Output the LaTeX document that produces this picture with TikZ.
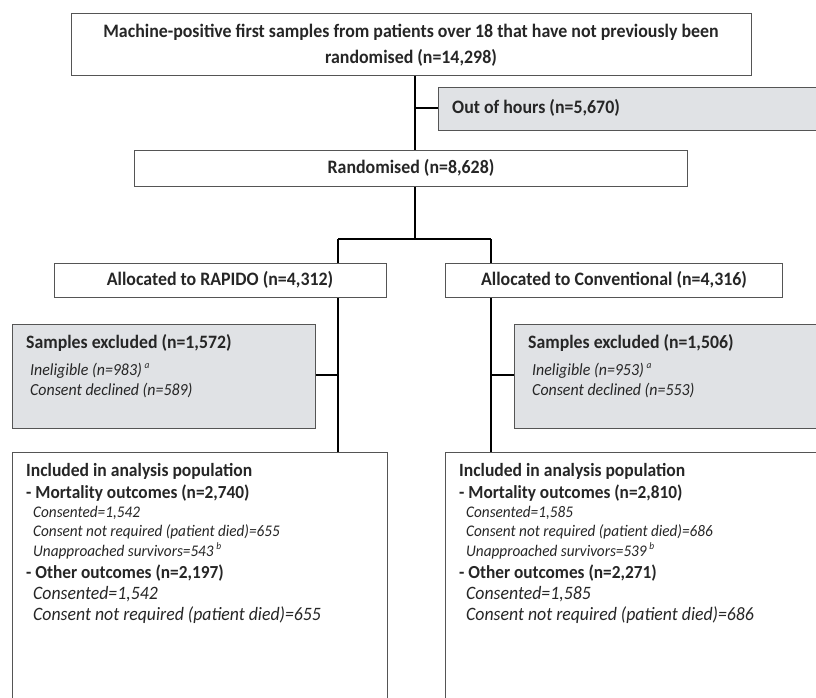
\documentclass[tikz,border=0pt]{standalone}
\usepackage{fontspec}
\setmainfont{Carlito}[FakeStretch=0.94]
\definecolor{boxfill}{HTML}{E0E2E5}
\definecolor{boxline}{HTML}{555555}
\definecolor{ink}{HTML}{262626}
\tikzset{
  box/.style={draw=boxline, line width=1.3pt, inner sep=0pt, anchor=north west, fill=white},
  greybox/.style={box, fill=boxfill},
  conn/.style={draw=black, line width=1.5pt},
  txt/.style={inner sep=0pt, text=ink},
  ltxt/.style={txt, anchor=west},
  hfont/.style={font=\fontsize{19}{26}\selectfont\bfseries},
  exfont/.style={font=\fontsize{18.9}{22}\selectfont\bfseries},
  exifont/.style={font=\fontsize{16.9}{20}\selectfont\itshape},
  incfont/.style={font=\fontsize{18.7}{22}\selectfont\bfseries},
  outfont/.style={font=\fontsize{18.4}{22}\selectfont\bfseries},
  sfont/.style={font=\fontsize{16.2}{19}\selectfont\itshape},
  bfont/.style={font=\fontsize{18.9}{22}\selectfont\itshape},
}
\newcommand{\supmark}[1]{\,\raisebox{0.9ex}{\fontsize{10}{10}\selectfont #1}}
\begin{document}
\begin{tikzpicture}[x=1pt,y=-1pt]
\useasboundingbox (0,0) rectangle (816,697);
\clip (0,0) rectangle (816,697);
% boxes
\node[box, minimum width=680pt, minimum height=62pt] (top) at (71,13) {};
\node[greybox, minimum width=400pt, minimum height=43pt] (ooh) at (438,87) {};
\node[box, minimum width=553pt, minimum height=36pt] (rand) at (134,150) {};
\node[box, minimum width=332pt, minimum height=34pt] (allocL) at (54,263) {};
\node[box, minimum width=337pt, minimum height=34pt] (allocR) at (445,263) {};
\node[greybox, minimum width=303pt, minimum height=104pt] (exclL) at (12,324) {};
\node[greybox, minimum width=320pt, minimum height=104pt] (exclR) at (514,324) {};
\node[box, minimum width=375pt, minimum height=260pt] (inclL) at (12,452) {};
\node[box, minimum width=390pt, minimum height=260pt] (inclR) at (445,452) {};
% junctions
\coordinate (j1) at (415,108);
\coordinate (j2) at (415,239);
\coordinate (jl) at (338,239);
\coordinate (jr) at (491,239);
\coordinate (el) at (338,375);
\coordinate (er) at (491,375);
% connectors
\draw[conn] (top.south -| j1) -- (rand.north -| j1);
\draw[conn] (j1) -- (ooh.west |- j1);
\draw[conn] (rand.south -| j2) -- (j2);
\draw[conn] (jl) -- (jr);
\draw[conn] (jl) -- (allocL.north -| jl);
\draw[conn] (jr) -- (allocR.north -| jr);
\draw[conn] (allocL.south -| jl) -- (inclL.north -| jl);
\draw[conn] (allocR.south -| jr) -- (inclR.north -| jr);
\draw[conn] (el) -- (exclL.east |- el);
\draw[conn] (er) -- (exclR.west |- er);
% texts
\node[txt, hfont, align=center] (ttop) at (411,45) {Machine-positive first samples from patients over 18 that have not previously been\\randomised (n=14,298)};
\node[ltxt, hfont] (tooh) at (452,108) {Out of hours (n=5,670)};
\node[txt, hfont] (trand) at (411,168) {Randomised (n=8,628)};
\node[txt, hfont] (tallocL) at (220,280) {Allocated to RAPIDO (n=4,312)};
\node[txt, hfont] (tallocR) at (614,280) {Allocated to Conventional (n=4,316)};
% excluded left
\node[ltxt, exfont] (exL1) at (26,343) {Samples excluded (n=1,572)};
\node[ltxt, exifont] (exL2) at (30,371) {Ineligible (n=983)\supmark{a}};
\node[ltxt, exifont] (exL3) at (30,390) {Consent declined (n=589)};
% excluded right
\node[ltxt, exfont] (exR1) at (528,343) {Samples excluded (n=1,506)};
\node[ltxt, exifont] (exR2) at (532,371) {Ineligible (n=953)\supmark{a}};
\node[ltxt, exifont] (exR3) at (532,390) {Consent declined (n=553)};
% included left
\node[ltxt, incfont] (inL1) at (26,471) {Included in analysis population};
\node[ltxt, outfont] (inL2) at (26,493) {- Mortality outcomes (n=2,740)};
\node[ltxt, sfont] (inL3) at (33,513) {Consented=1,542};
\node[ltxt, sfont] (inL4) at (33,532) {Consent not required (patient died)=655};
\node[ltxt, sfont] (inL5) at (33,551) {Unapproached survivors=543\supmark{b}};
\node[ltxt, outfont] (inL6) at (26,573) {- Other outcomes (n=2,197)};
\node[ltxt, bfont] (inL7) at (33,594) {Consented=1,542};
\node[ltxt, bfont] (inL8) at (33,615) {Consent not required (patient died)=655};
% included right
\node[ltxt, incfont] (inR1) at (459,471) {Included in analysis population};
\node[ltxt, outfont] (inR2) at (459,493) {- Mortality outcomes (n=2,810)};
\node[ltxt, sfont] (inR3) at (466,513) {Consented=1,585};
\node[ltxt, sfont] (inR4) at (466,532) {Consent not required (patient died)=686};
\node[ltxt, sfont] (inR5) at (466,551) {Unapproached survivors=539\supmark{b}};
\node[ltxt, outfont] (inR6) at (459,573) {- Other outcomes (n=2,271)};
\node[ltxt, bfont] (inR7) at (466,594) {Consented=1,585};
\node[ltxt, bfont] (inR8) at (466,615) {Consent not required (patient died)=686};
\end{tikzpicture}
\end{document}
